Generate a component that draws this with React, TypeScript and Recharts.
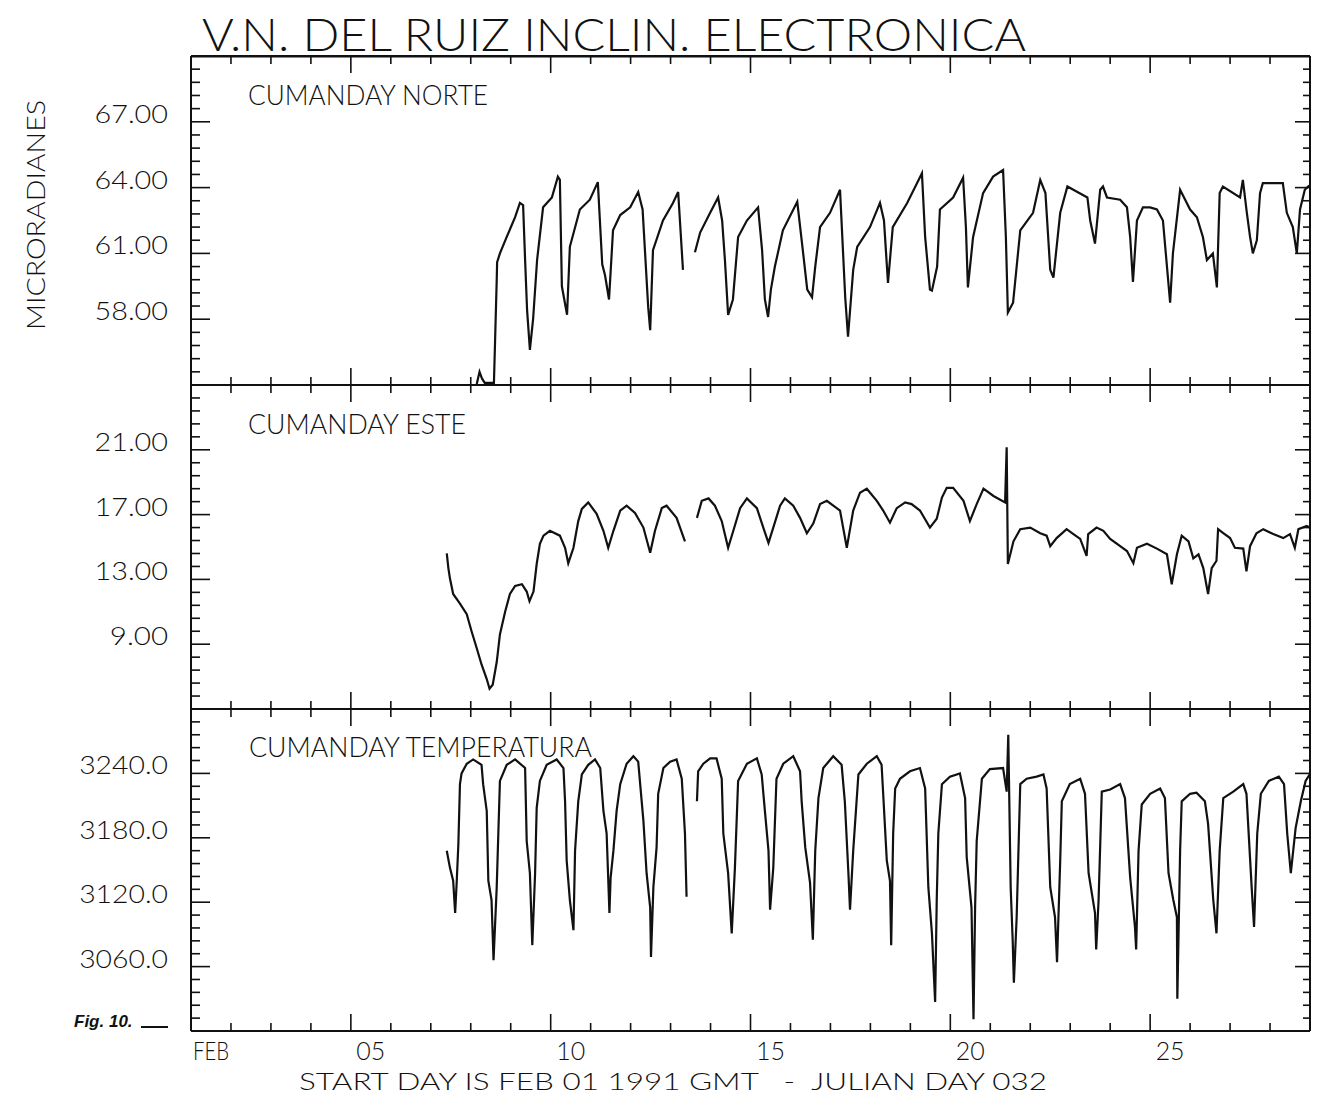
import { LineChart, Line, XAxis, YAxis } from 'recharts'

// tilt and temperature traces: [day of February, value]
const NORTE: [number, number | null][] = [
  [8.15, 55.05], [8.22, 55.6], [8.28, 55.3], [8.35, 55.1], [8.58, 55.1], [8.61, 57.1], [8.65, 59.8], [8.66, 60.6],
  [8.73, 61.0], [8.9, 61.75], [9.11, 62.65], [9.23, 63.3], [9.31, 63.2], [9.36, 60.7], [9.41, 58.4], [9.48, 56.6],
  [9.56, 58.0], [9.66, 60.7], [9.81, 63.1], [10.03, 63.55], [10.18, 64.5], [10.23, 64.35], [10.28, 59.5], [10.41, 58.2],
  [10.48, 61.3], [10.73, 63.0], [10.98, 63.45], [11.18, 64.25], [11.29, 60.5], [11.36, 60.0], [11.46, 58.9], [11.56, 62.05],
  [11.74, 62.75], [11.99, 63.1], [12.19, 63.8], [12.3, 63.0], [12.44, 58.55], [12.49, 57.5], [12.56, 61.15], [12.81, 62.5],
  [13.06, 63.3], [13.19, 63.8], [13.31, 60.25], [13.45, null],
  [13.61, 61.05], [13.74, 61.95], [13.99, 62.85], [14.19, 63.55], [14.29, 62.5], [14.36, 60.7], [14.44, 58.2], [14.56, 58.9],
  [14.69, 61.75], [14.91, 62.5], [15.19, 63.1], [15.29, 61.15], [15.36, 58.9], [15.44, 58.1], [15.51, 59.35], [15.61, 60.4],
  [15.81, 62.05], [16.17, 63.35], [16.29, 61.45], [16.42, 59.35], [16.54, 59.0], [16.62, 60.4], [16.74, 62.2], [16.99, 62.85],
  [17.24, 63.9], [17.37, 59.0], [17.44, 57.2], [17.57, 60.25], [17.67, 61.3], [17.99, 62.2], [18.24, 63.3], [18.34, 62.5],
  [18.44, 59.65], [18.56, 62.2], [18.92, 63.3], [19.29, 64.65], [19.37, 61.75], [19.49, 59.35], [19.54, 59.3], [19.67, 60.4],
  [19.74, 63.0], [20.07, 63.55], [20.32, 64.45], [20.39, 62.2], [20.44, 59.45], [20.57, 61.75], [20.82, 63.75], [21.07, 64.5],
  [21.32, 64.8], [21.39, 61.75], [21.44, 58.3], [21.57, 58.75], [21.75, 62.05], [22.07, 62.85], [22.25, 64.35], [22.38, 63.75],
  [22.5, 60.25], [22.58, 59.9], [22.75, 62.85], [22.93, 64.05], [23.18, 63.8], [23.43, 63.55], [23.5, 62.5], [23.62, 61.45],
  [23.75, 63.9], [23.82, 64.05], [23.92, 63.55], [24.25, 63.45], [24.42, 63.1], [24.5, 61.75], [24.57, 59.7], [24.67, 62.5],
  [24.82, 63.1], [25.0, 63.1], [25.17, 63.0], [25.32, 62.5], [25.5, 58.75], [25.57, 61.0], [25.75, 63.9], [26.0, 63.0],
  [26.17, 62.65], [26.32, 61.75], [26.42, 60.7], [26.57, 61.0], [26.67, 59.45], [26.74, 63.75], [26.82, 64.05], [27.25, 63.55],
  [27.32, 64.35], [27.42, 62.85], [27.5, 61.75], [27.57, 61.0], [27.67, 61.6], [27.75, 63.75], [27.82, 64.2], [28.32, 64.2],
  [28.42, 62.85], [28.57, 62.2], [28.67, 61.0], [28.75, 63.0], [28.87, 63.9], [28.98, 64.1],
]

const ESTE: [number, number | null][] = [
  [7.4, 14.6], [7.44, 13.7], [7.48, 13.05], [7.56, 12.1], [7.73, 11.5], [7.9, 10.85], [8.02, 9.8], [8.15, 8.75],
  [8.27, 7.75], [8.4, 6.85], [8.47, 6.25], [8.55, 6.5], [8.65, 7.9], [8.73, 9.6], [8.86, 11.0], [8.98, 12.1],
  [9.11, 12.6], [9.28, 12.7], [9.4, 12.25], [9.47, 11.65], [9.57, 12.25], [9.65, 13.95], [9.73, 15.2], [9.82, 15.7],
  [9.98, 16.0], [10.23, 15.7], [10.36, 14.95], [10.44, 14.0], [10.57, 14.95], [10.69, 16.6], [10.78, 17.35], [10.94, 17.75],
  [11.15, 17.05], [11.32, 16.0], [11.44, 14.95], [11.57, 16.0], [11.74, 17.25], [11.9, 17.55], [12.11, 17.1], [12.32, 16.2],
  [12.49, 14.65], [12.61, 16.0], [12.78, 17.4], [12.9, 17.55], [13.15, 16.8], [13.36, 15.35], [13.5, null],
  [13.66, 16.8], [13.78, 17.85], [13.95, 18.0], [14.11, 17.55], [14.28, 16.6], [14.44, 14.95], [14.57, 16.0], [14.74, 17.4],
  [14.91, 18.0], [15.16, 17.4], [15.32, 16.2], [15.45, 15.25], [15.57, 16.2], [15.74, 17.55], [15.86, 18.0], [16.07, 17.55],
  [16.24, 16.8], [16.41, 15.85], [16.57, 16.45], [16.74, 17.65], [16.91, 17.85], [17.24, 17.25], [17.41, 14.95], [17.57, 17.25],
  [17.74, 18.35], [17.91, 18.6], [18.16, 17.85], [18.32, 17.25], [18.49, 16.5], [18.66, 17.4], [18.87, 17.75], [19.03, 17.65],
  [19.24, 17.25], [19.49, 16.2], [19.66, 16.75], [19.79, 18.05], [19.91, 18.65], [20.07, 18.65], [20.33, 17.85], [20.49, 16.6],
  [20.66, 17.65], [20.83, 18.6], [21.08, 18.15], [21.37, 17.75], [21.41, 21.15], [21.44, 13.95], [21.58, 15.35], [21.75, 16.1],
  [22.0, 16.2], [22.25, 15.85], [22.41, 15.7], [22.5, 15.05], [22.66, 15.55], [22.91, 16.1], [23.08, 15.8], [23.25, 15.5],
  [23.41, 14.45], [23.45, 15.8], [23.66, 16.2], [23.83, 16.0], [24.0, 15.5], [24.25, 15.05], [24.42, 14.75], [24.58, 14.0],
  [24.67, 14.95], [24.92, 15.2], [25.17, 14.9], [25.42, 14.55], [25.54, 12.7], [25.67, 14.55], [25.79, 15.7], [25.96, 15.35],
  [26.08, 14.3], [26.21, 14.55], [26.33, 13.7], [26.45, 12.1], [26.54, 13.7], [26.66, 14.15], [26.7, 16.1], [26.83, 15.85],
  [27.0, 15.55], [27.12, 14.95], [27.33, 14.9], [27.41, 13.5], [27.5, 15.05], [27.66, 15.85], [27.83, 16.1], [28.08, 15.8],
  [28.33, 15.55], [28.5, 15.8], [28.62, 14.95], [28.71, 16.1], [28.92, 16.3], [28.99, 16.2],
]

const TEMP: [number, number | null][] = [
  [7.4, 3168], [7.48, 3152], [7.56, 3140], [7.61, 3110], [7.65, 3140], [7.69, 3174], [7.73, 3230], [7.77, 3240],
  [7.9, 3249], [8.06, 3253], [8.27, 3248], [8.31, 3230], [8.4, 3205], [8.44, 3140], [8.52, 3122], [8.57, 3066],
  [8.65, 3134], [8.69, 3184], [8.73, 3233], [8.9, 3248], [9.11, 3253], [9.36, 3245], [9.4, 3177], [9.48, 3147],
  [9.54, 3080], [9.61, 3147], [9.65, 3208], [9.73, 3233], [9.9, 3248], [10.15, 3253], [10.32, 3245], [10.36, 3214],
  [10.4, 3159], [10.48, 3122], [10.57, 3094], [10.61, 3168], [10.69, 3214], [10.78, 3239], [10.94, 3248], [11.11, 3253],
  [11.24, 3245], [11.32, 3205], [11.4, 3184], [11.47, 3110], [11.5, 3143], [11.57, 3168], [11.65, 3205], [11.74, 3230],
  [11.9, 3249], [12.07, 3256], [12.19, 3251], [12.32, 3196], [12.4, 3147], [12.49, 3115], [12.51, 3069], [12.57, 3134],
  [12.65, 3171], [12.69, 3221], [12.82, 3245], [12.99, 3251], [13.15, 3253], [13.28, 3235], [13.36, 3184], [13.4, 3125],
  [13.5, null],
  [13.66, 3214], [13.69, 3242], [13.82, 3249], [13.99, 3254], [14.15, 3254], [14.28, 3235], [14.32, 3184], [14.44, 3147],
  [14.53, 3091], [14.61, 3152], [14.69, 3233], [14.91, 3249], [15.16, 3254], [15.28, 3239], [15.36, 3205], [15.45, 3168],
  [15.49, 3113], [15.57, 3152], [15.65, 3235], [15.82, 3249], [16.07, 3256], [16.24, 3242], [16.28, 3214], [16.37, 3171],
  [16.49, 3138], [16.56, 3085], [16.62, 3168], [16.7, 3217], [16.82, 3245], [17.07, 3256], [17.28, 3248], [17.36, 3214],
  [17.45, 3147], [17.49, 3113], [17.57, 3168], [17.7, 3239], [17.91, 3249], [18.16, 3256], [18.28, 3248], [18.32, 3221],
  [18.41, 3159], [18.49, 3140], [18.52, 3080], [18.57, 3184], [18.62, 3226], [18.74, 3235], [18.99, 3242], [19.24, 3245],
  [19.37, 3226], [19.45, 3134], [19.54, 3091], [19.62, 3027], [19.66, 3122], [19.7, 3184], [19.79, 3230], [19.99, 3237],
  [20.24, 3240], [20.37, 3217], [20.41, 3162], [20.53, 3115], [20.58, 3011], [20.62, 3115], [20.66, 3177], [20.79, 3235],
  [20.99, 3244], [21.32, 3245], [21.41, 3223], [21.45, 3276], [21.51, 3134], [21.56, 3085], [21.59, 3045], [21.66, 3106],
  [21.75, 3230], [21.91, 3235], [22.16, 3237], [22.33, 3239], [22.41, 3226], [22.5, 3134], [22.62, 3106], [22.67, 3064],
  [22.75, 3159], [22.79, 3214], [22.99, 3230], [23.25, 3235], [23.37, 3221], [23.46, 3147], [23.62, 3110], [23.65, 3076],
  [23.71, 3122], [23.79, 3223], [24.0, 3225], [24.25, 3230], [24.37, 3217], [24.5, 3143], [24.62, 3097], [24.65, 3076],
  [24.71, 3168], [24.79, 3211], [25.0, 3221], [25.25, 3226], [25.37, 3217], [25.46, 3147], [25.58, 3122], [25.67, 3106],
  [25.68, 3030], [25.75, 3168], [25.79, 3214], [26.0, 3221], [26.16, 3222], [26.37, 3214], [26.45, 3193], [26.58, 3122],
  [26.66, 3091], [26.74, 3168], [26.83, 3217], [27.08, 3223], [27.33, 3230], [27.41, 3221], [27.54, 3134], [27.6, 3097],
  [27.68, 3184], [27.77, 3221], [27.97, 3233], [28.22, 3237], [28.35, 3230], [28.43, 3184], [28.52, 3147], [28.64, 3189],
  [28.77, 3214], [28.89, 3233], [28.99, 3239],
]

const DAY_TICKS = [2, 3, 4, 5, 6, 7, 8, 9, 10, 11, 12, 13, 14, 15, 16, 17, 18, 19, 20, 21, 22, 23, 24, 25, 26, 27, 28]
const MAJOR_DAYS = [5, 10, 15, 20, 25]
const LABEL_DAYS = [1.5, 5.5, 10.5, 15.5, 20.5, 25.5]
const DAY_LABELS = ['FEB', '05', '10', '15', '20', '25']

const NORTE_MAJORS = [58, 61, 64, 67]
const ESTE_MAJORS = [9, 13, 17, 21]
const TEMP_MAJORS = [3060, 3120, 3180, 3240]

const INK = '#111'
const FONT = "Lato, 'DejaVu Sans', sans-serif"
const CHART_W = 1319
const FRAME_LEFT = 191
const RIGHT_W = 9
const AX_H = 1

const makeTicks = (lo: number, hi: number, step: number) => {
  const out: number[] = []
  for (let i = 1; lo + i * step < hi - 1e-6; i++) out.push(+(lo + i * step).toFixed(3))
  return out
}
const isIn = (list: number[], v: number) => list.some((m) => Math.abs(m - v) < 1e-6)

interface PanelProps {
  top: number
  height: number
  rows: [number, number | null][]
  domain: [number, number]
  majors: number[]
  step: number
  fmt: (v: number) => string
  dayLabels?: boolean
}

function Panel({ top, height, rows, domain, majors, step, fmt, dayLabels }: PanelProps) {
  const data = rows.map(([d, v]) => ({ d, v }))
  const yTicks = makeTicks(domain[0], domain[1], step)
  const pad = dayLabels ? 40 : 0
  const bottomTicks = dayLabels ? [...DAY_TICKS, ...LABEL_DAYS].sort((a, b) => a - b) : DAY_TICKS

  const tickUp = (p: any) => {
    const v = p.payload.value
    const i = LABEL_DAYS.indexOf(v)
    if (i >= 0) {
      const lab = DAY_LABELS[i]
      return (
        <text x={p.x} y={p.y + 29} textAnchor="middle" fontSize={26} fontWeight={300} fontFamily={FONT} fill={INK}
          textLength={lab.length === 3 ? 36 : 29} lengthAdjust="spacingAndGlyphs">
          {lab}
        </text>
      )
    }
    return <line x1={p.x} x2={p.x} y1={p.y} y2={p.y - (isIn(MAJOR_DAYS, v) ? 17 : 8)} stroke={INK} strokeWidth={1.6} />
  }
  const tickDown = (p: any) => (
    <line x1={p.x} x2={p.x} y1={p.y} y2={p.y + (isIn(MAJOR_DAYS, p.payload.value) ? 17 : 8)} stroke={INK} strokeWidth={1.6} />
  )
  const tickLeft = (p: any) => {
    const v = p.payload.value
    const major = isIn(majors, v)
    const label = fmt(v)
    return (
      <g>
        <line x1={p.x} x2={p.x + (major ? 19 : 9)} y1={p.y} y2={p.y} stroke={INK} strokeWidth={1.6} />
        {major && (
          <text x={p.x - 23} y={p.y + 1} textAnchor="end" fontSize={25} fontWeight={300} fontFamily={FONT} fill={INK}
            textLength={label.length * 15.3 - 3} lengthAdjust="spacingAndGlyphs">
            {label}
          </text>
        )}
      </g>
    )
  }
  const tickRight = (p: any) => (
    <line x1={p.x} x2={p.x - (isIn(majors, p.payload.value) ? 15 : 7)} y1={p.y} y2={p.y} stroke={INK} strokeWidth={1.6} />
  )

  return (
    <div style={{ position: 'absolute', left: 0, top: top - AX_H }}>
      <LineChart width={CHART_W} height={height + pad + 2 * AX_H} data={data} margin={{ top: 0, right: 0, bottom: pad, left: 0 }}>
        <XAxis xAxisId="b" dataKey="d" type="number" domain={[1, 29]} allowDataOverflow ticks={bottomTicks}
          interval={0} height={AX_H} tickSize={0} tickMargin={0} tickLine={false}
          axisLine={{ stroke: INK, strokeWidth: 2 }} tick={tickUp} />
        <XAxis xAxisId="t" orientation="top" dataKey="d" type="number" domain={[1, 29]} allowDataOverflow ticks={DAY_TICKS}
          interval={0} height={AX_H} tickSize={0} tickMargin={0} tickLine={false}
          axisLine={{ stroke: INK, strokeWidth: top < 100 ? 3 : 2 }} tick={tickDown} />
        <YAxis yAxisId="l" type="number" domain={domain} allowDataOverflow ticks={yTicks} interval={0}
          width={FRAME_LEFT} tickSize={0} tickMargin={0} tickLine={false}
          axisLine={{ stroke: INK, strokeWidth: 2 }} tick={tickLeft} />
        <YAxis yAxisId="r" orientation="right" type="number" domain={domain} allowDataOverflow ticks={yTicks} interval={0}
          width={RIGHT_W} tickSize={0} tickMargin={0} tickLine={false}
          axisLine={{ stroke: INK, strokeWidth: 2 }} tick={tickRight} />
        <Line xAxisId="b" yAxisId="l" type="linear" dataKey="v" stroke={INK} strokeWidth={2.2}
          dot={false} connectNulls={false} isAnimationActive={false} />
      </LineChart>
    </div>
  )
}

export default function App() {
  return (
    <div style={{ position: 'absolute', left: 0, top: 0, width: 1319, height: 1099, background: '#fff', overflow: 'hidden' }}>
      <Panel top={56} height={329} rows={NORTE} domain={[55, 70]} majors={NORTE_MAJORS} step={0.6} fmt={(v) => v.toFixed(2)} />
      <Panel top={385} height={324} rows={ESTE} domain={[5, 25]} majors={ESTE_MAJORS} step={0.8} fmt={(v) => v.toFixed(2)} />
      <Panel top={709} height={322} rows={TEMP} domain={[3000, 3300]} majors={TEMP_MAJORS} step={12} fmt={(v) => v.toFixed(1)} dayLabels />
      <svg width={1319} height={1099} style={{ position: 'absolute', left: 0, top: 0, pointerEvents: 'none' }}
        fontFamily={FONT} fontWeight={300} fill={INK}>
        <text x={202} y={51} fontSize={46} textLength={824} lengthAdjust="spacingAndGlyphs">V.N. DEL RUIZ INCLIN. ELECTRONICA</text>
        <text x={248} y={105} fontSize={27} textLength={240} lengthAdjust="spacingAndGlyphs">CUMANDAY NORTE</text>
        <text x={248} y={434} fontSize={27} textLength={218} lengthAdjust="spacingAndGlyphs">CUMANDAY ESTE</text>
        <text x={249} y={757} fontSize={27} textLength={343} lengthAdjust="spacingAndGlyphs">CUMANDAY TEMPERATURA</text>
        <text transform="translate(45, 215) rotate(-90)" textAnchor="middle" fontSize={26} textLength={230} lengthAdjust="spacingAndGlyphs">MICRORADIANES</text>
        <text x={74} y={1027} fontSize={17} fontStyle="italic" fontWeight={700} fontFamily="'Liberation Sans', sans-serif">Fig. 10.</text>
        <line x1={141} x2={168} y1={1027} y2={1027} stroke={INK} strokeWidth={2} />
        <text x={299} y={1090} fontSize={24} textLength={748} lengthAdjust="spacingAndGlyphs" style={{ whiteSpace: 'pre' }}>
          START DAY IS FEB 01 1991 GMT   -  JULIAN DAY 032
        </text>
      </svg>
    </div>
  )
}
